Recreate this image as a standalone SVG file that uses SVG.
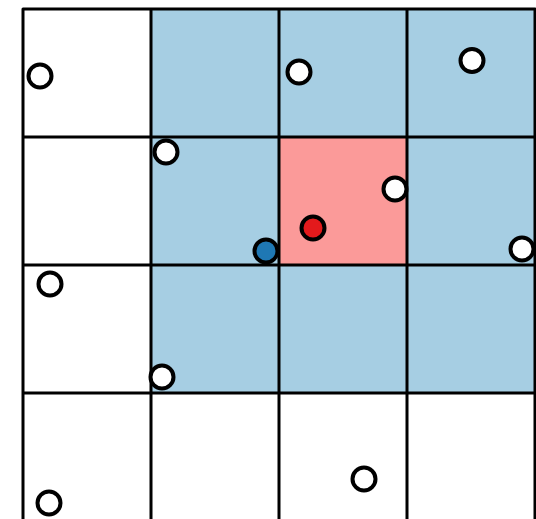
<svg xmlns="http://www.w3.org/2000/svg" width="536" height="519" viewBox="0 0 536 519">
<style>
.grid{stroke:#000;stroke-width:3;fill:none;stroke-linecap:round;stroke-linejoin:round}
.pt circle{stroke:#000;stroke-width:4}
.w{fill:#fff}
</style>
<rect width="536" height="519" fill="#fff"/>
<g id="cells">
<rect x="151" y="9" width="384" height="384" fill="#a6cee3"/>
<rect x="279" y="137" width="128" height="128" fill="#fb9a99"/>
</g>
<g id="grid" class="grid">
<path d="M23,9H535M23,137H535M23,265H535M23,393H535M23,9V525M151,9V525M279,9V525M407,9V525M535,9V525"/>
</g>
<g id="points" class="pt">
<circle id="p1" class="w" cx="40" cy="76" r="11.5"/>
<circle id="p2" class="w" cx="166" cy="152" r="11.5"/>
<circle id="p3" class="w" cx="299" cy="72" r="11.5"/>
<circle id="p4" class="w" cx="472" cy="60.5" r="11.5"/>
<circle id="p5" class="w" cx="395" cy="189" r="11.5"/>
<circle id="p6" class="w" cx="522" cy="249" r="11.5"/>
<circle id="p7" cx="313" cy="228" r="11.5" fill="#e31a1c"/>
<circle id="p8" cx="266" cy="251" r="11.5" fill="#1f78b4"/>
<circle id="p9" class="w" cx="50" cy="284" r="11.5"/>
<circle id="p10" class="w" cx="162" cy="377" r="11.5"/>
<circle id="p11" class="w" cx="49" cy="503" r="11.5"/>
<circle id="p12" class="w" cx="364" cy="479" r="11.5"/>
</g>
</svg>
